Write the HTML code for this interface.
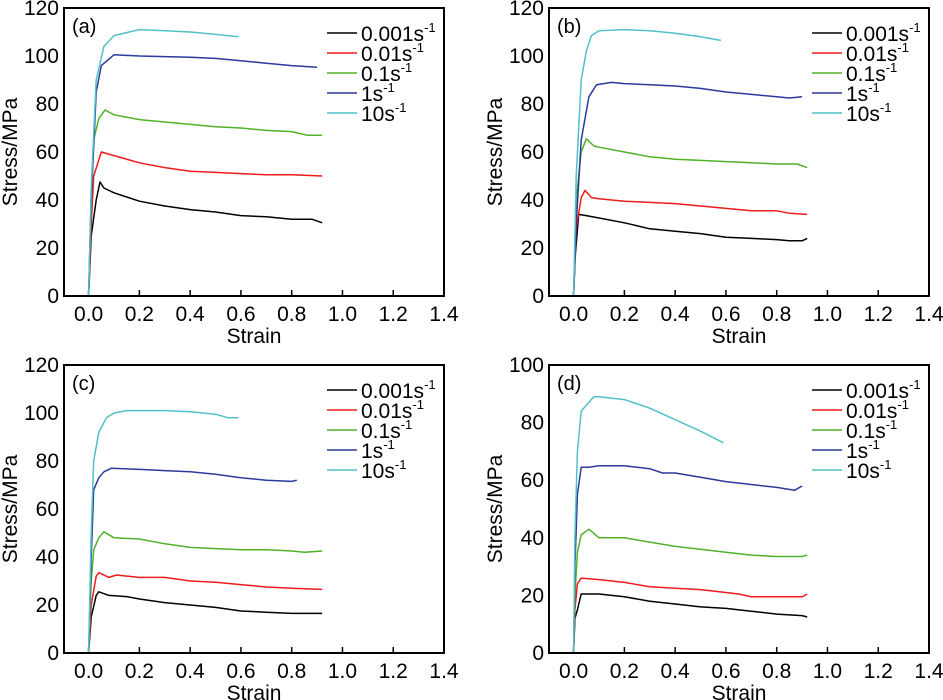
<!DOCTYPE html>
<html><head><meta charset="utf-8">
<style>
body{margin:0;background:#fff;}
svg{display:block;font-family:"Liberation Sans",sans-serif;}
</style></head>
<body>
<svg id="chart" width="943" height="700" viewBox="0 0 943 700"></svg>
<script>
const panelLabels = ["(a)","(b)","(c)","(d)"];
const yMaxes = [120,120,120,100];
const xTicks = [0.0,0.2,0.4,0.6,0.8,1.0,1.2,1.4];
const xTickLabels = ["0.0","0.2","0.4","0.6","0.8","1.0","1.2","1.4"];
const yTicksA = [0,20,40,60,80,100,120];
const yTicksD = [0,20,40,60,80,100];
const rateLabels = ["0.001","0.01","0.1","1","10"];
const colors = ["#000000","#ee1c1c","#4fb228","#2b3a9c","#52c0c8"];

// panel (a)
const a_x0=[0,0.01,0.03,0.045,0.06,0.1,0.2,0.3,0.4,0.5,0.6,0.7,0.8,0.88,0.92];
const a_y0=[0,25,40,47.5,45,43,39.5,37.5,36,35,33.5,33,32,32,30.5];
const a_x1=[0,0.01,0.02,0.05,0.1,0.2,0.3,0.4,0.5,0.6,0.7,0.8,0.92];
const a_y1=[0,30,50,60,58.5,55.5,53.5,52,51.5,51,50.5,50.5,50];
const a_x2=[0,0.01,0.02,0.04,0.065,0.1,0.2,0.3,0.4,0.5,0.6,0.7,0.8,0.86,0.92];
const a_y2=[0,40,65,74,77.5,75.5,73.5,72.5,71.5,70.5,70,69,68.5,67,67];
const a_x3=[0,0.01,0.03,0.05,0.1,0.2,0.4,0.5,0.6,0.7,0.8,0.9];
const a_y3=[0,40,85,96,100.5,100,99.5,99,98,97,96,95.3];
const a_x4=[0,0.01,0.03,0.06,0.1,0.2,0.3,0.4,0.5,0.59];
const a_y4=[0,45,90,104,108.5,111,110.5,110,109,108];
// panel (b)
const b_x0=[0,0.005,0.02,0.05,0.1,0.2,0.3,0.4,0.5,0.6,0.7,0.8,0.85,0.9,0.92];
const b_y0=[0,15,34,33.5,32.5,30.5,28,27,26,24.5,24,23.5,23,23,24];
const b_x1=[0,0.01,0.03,0.045,0.07,0.1,0.2,0.3,0.4,0.5,0.6,0.7,0.8,0.85,0.92];
const b_y1=[0,28,41,44,41,40.5,39.5,39,38.5,37.5,36.5,35.5,35.5,34.5,34];
const b_x2=[0,0.01,0.03,0.05,0.08,0.1,0.2,0.3,0.4,0.5,0.6,0.7,0.8,0.88,0.92];
const b_y2=[0,40,60,65.5,62.5,62,60,58,57,56.5,56,55.5,55,55,53.5];
const b_x3=[0,0.01,0.03,0.06,0.09,0.15,0.2,0.3,0.4,0.5,0.6,0.7,0.8,0.85,0.9];
const b_y3=[0,30,65,83,88,89,88.5,88,87.5,86.5,85,84,83,82.5,83];
const b_x4=[0,0.01,0.03,0.05,0.07,0.1,0.2,0.3,0.4,0.5,0.58];
const b_y4=[0,50,90,102,108.5,110.5,111,110.5,109.5,108,106.5];
// panel (c)
const c_x0=[0,0.01,0.03,0.04,0.08,0.15,0.2,0.3,0.4,0.5,0.6,0.7,0.8,0.92];
const c_y0=[0,15,24,25.5,24,23.5,22.5,21,20,19,17.5,17,16.5,16.5];
const c_x1=[0,0.01,0.03,0.04,0.08,0.11,0.2,0.3,0.4,0.5,0.6,0.7,0.8,0.92];
const c_y1=[0,20,32,33.5,31.5,32.5,31.5,31.5,30,29.5,28.5,27.5,27,26.5];
const c_x2=[0,0.01,0.02,0.04,0.06,0.1,0.2,0.3,0.4,0.5,0.6,0.7,0.8,0.85,0.92];
const c_y2=[0,30,43,48,50.5,48,47.5,45.5,44,43.5,43,43,42.5,42,42.5];
const c_x3=[0,0.01,0.02,0.04,0.06,0.09,0.2,0.3,0.4,0.5,0.6,0.7,0.8,0.82];
const c_y3=[0,40,68,73,75.5,77,76.5,76,75.5,74.5,73,72,71.5,72];
const c_x4=[0,0.01,0.02,0.04,0.07,0.1,0.15,0.3,0.4,0.5,0.55,0.59];
const c_y4=[0,50,80,92,98,100,101,101,100.5,99.5,98,98];
// panel (d)
const d_x0=[0,0.005,0.015,0.03,0.1,0.2,0.3,0.4,0.5,0.6,0.7,0.8,0.9,0.92];
const d_y0=[0,12,15,20.5,20.5,19.5,18,17,16,15.5,14.5,13.5,13,12.5];
const d_x1=[0,0.005,0.015,0.03,0.1,0.2,0.3,0.4,0.5,0.6,0.65,0.7,0.8,0.9,0.92];
const d_y1=[0,15,24,26,25.5,24.5,23,22.5,22,21,20.5,19.5,19.5,19.5,20.5];
const d_x2=[0,0.005,0.015,0.03,0.06,0.1,0.2,0.3,0.4,0.5,0.6,0.7,0.8,0.9,0.92];
const d_y2=[0,20,35,41,43,40,40,38.5,37,36,35,34,33.5,33.5,34];
const d_x3=[0,0.005,0.015,0.03,0.06,0.1,0.2,0.3,0.35,0.4,0.5,0.6,0.7,0.8,0.87,0.9];
const d_y3=[0,30,55,64.5,64.5,65,65,64,62.5,62.5,61,59.5,58.5,57.5,56.5,58];
const d_x4=[0,0.005,0.015,0.03,0.05,0.08,0.1,0.2,0.3,0.4,0.5,0.59];
const d_y4=[0,40,70,84,86,89,89,88,85,81,77,73];

const panelXs=[[a_x0,a_x1,a_x2,a_x3,a_x4],[b_x0,b_x1,b_x2,b_x3,b_x4],[c_x0,c_x1,c_x2,c_x3,c_x4],[d_x0,d_x1,d_x2,d_x3,d_x4]];
const panelYs=[[a_y0,a_y1,a_y2,a_y3,a_y4],[b_y0,b_y1,b_y2,b_y3,b_y4],[c_y0,c_y1,c_y2,c_y3,c_y4],[d_y0,d_y1,d_y2,d_y3,d_y4]];

const NS="http://www.w3.org/2000/svg";
const svg=document.getElementById('chart');
function mk(tag,attrs,parent){const e=document.createElementNS(NS,tag);for(const k in attrs)e.setAttribute(k,attrs[k]);(parent||svg).appendChild(e);return e;}
const origins=[[64,8],[549,8],[64,365],[549,365]];
const W=380,H=288,XMIN=-0.097,XMAX=1.4;
const names=["a","b","c","d"];
origins.forEach((o,p)=>{
  const g=mk('g',{});
  
  
  const L=o[0],T=o[1],ymax=yMaxes[p];
  const sx=v=>L+(v-XMIN)/(XMAX-XMIN)*W;
  const sy=v=>T+H-v/ymax*H;
  const ticksY=ymax===100?yTicksD:yTicksA;
  ticksY.forEach(t=>{
    const tx=mk('text',{x:L-5,y:sy(t)+7,'text-anchor':'end','font-size':'21'},g);
    tx.textContent=t;
    
    
  });
  xTicks.forEach((t,i)=>{
    const ln=mk('line',{x1:sx(t),x2:sx(t),y1:T+H,y2:T+H-6,stroke:'#000','stroke-width':1.5},g);
    
    
    const tx=mk('text',{x:sx(t),y:T+H+25,'text-anchor':'middle','font-size':'21'},g);
    tx.textContent=xTickLabels[i];
    
    
  });
  const xt=mk('text',{x:L+190,y:T+H+47,'text-anchor':'middle','font-size':'21'},g);
  xt.textContent='Strain';
  
  
  const yt=mk('text',{x:0,y:0,'text-anchor':'middle','font-size':'21',transform:`translate(${L-47},${T+H/2}) rotate(-90)`},g);
  yt.textContent='Stress/MPa';
  
  
  panelXs[p].forEach((xs,s)=>{
    const ys=panelYs[p][s];
    const pts=xs.map((x,i)=>sx(x).toFixed(1)+','+sy(ys[i]).toFixed(1)).join(' ');
    const pl=mk('polyline',{points:pts,fill:'none',stroke:colors[s],'stroke-width':1.5,'stroke-linejoin':'round'},g);
    
    
  });
  const fr=mk('rect',{x:L,y:T,width:W,height:H,fill:'none',stroke:'#000','stroke-width':2},g);
  
  
  const pt=mk('text',{x:L+8,y:T+25,'font-size':'20'},g);
  pt.textContent=panelLabels[p];
  
  
  rateLabels.forEach((r,s)=>{
    const yy=T+25+s*20;
    const ln=mk('line',{x1:L+263,x2:L+293,y1:yy,y2:yy,stroke:colors[s],'stroke-width':1.5},g);
    
    
    const tx=mk('text',{x:L+297,y:yy+8,'font-size':'21'},g);
    
    
    tx.appendChild(document.createTextNode(r+'s'));
    const sup=mk('tspan',{dy:-9,'font-size':'13'},tx);
    sup.textContent='-1';
  });
});
</script>
</body></html>
